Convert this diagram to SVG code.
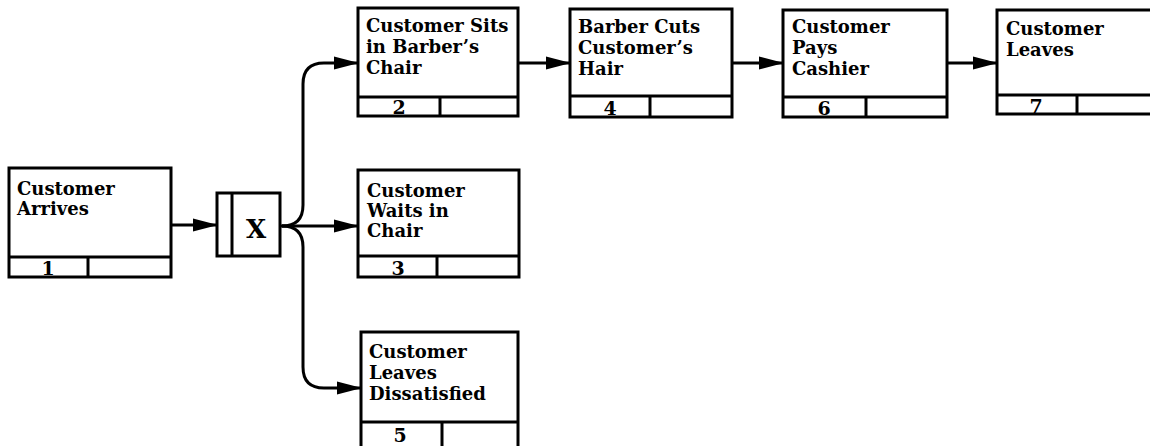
<svg xmlns="http://www.w3.org/2000/svg" width="1150" height="446" viewBox="0 0 1150 446">
<style>
.box{fill:#fff;stroke:#000;stroke-width:3}
.ln{fill:none;stroke:#000;stroke-width:3}
.t{font-family:"DejaVu Serif","Liberation Serif",serif;font-weight:bold;font-size:18px;fill:#000}
.n{font-family:"DejaVu Serif","Liberation Serif",serif;font-weight:bold;font-size:19px;fill:#000;text-anchor:middle}
.c{fill:none;stroke:#000;stroke-width:3;marker-end:url(#ah)}
</style>
<defs>
<marker id="ah" markerUnits="userSpaceOnUse" markerWidth="26" markerHeight="14" refX="24" refY="7" orient="auto">
<path d="M0,0.5 L25,7 L0,13.5 Z" fill="#000"/>
</marker>
</defs>
<rect width="1150" height="446" fill="#fff"/>
<g id="connectors">
<path class="c" d="M171,225 L217,225"/>
<path class="c" d="M280,226 L358,226"/>
<path class="c" d="M282,226 Q303,226 303,205 L303,84 Q303,63 324,63 L358,63"/>
<path class="c" d="M282,226 Q303,226 303,247 L303,367 Q303,388 324,388 L361,388"/>
<path class="c" d="M518,63 L570,63"/>
<path class="c" d="M732,63 L783,63"/>
<path class="c" d="M947,63 L997,63"/>
</g>
<g id="node1">
<rect class="box" x="9" y="168" width="162" height="109"/>
<line class="ln" x1="9" y1="257" x2="171" y2="257"/>
<line class="ln" x1="88" y1="257" x2="88" y2="277"/>
<text class="t" x="17" y="195">Customer</text>
<text class="t" x="17" y="215">Arrives</text>
<text class="n" x="48" y="275">1</text>
</g>
<g id="junction">
<rect class="box" x="217" y="193" width="63" height="63"/>
<line class="ln" x1="232" y1="193" x2="232" y2="256"/>
<text x="256" y="238" font-family="DejaVu Serif, Liberation Serif, serif" font-weight="bold" font-size="26" text-anchor="middle">X</text>
</g>
<g id="node2">
<rect class="box" x="358" y="8" width="160" height="108"/>
<line class="ln" x1="358" y1="97" x2="518" y2="97"/>
<line class="ln" x1="440" y1="97" x2="440" y2="116"/>
<text class="t" x="366" y="32">Customer Sits</text>
<text class="t" x="366" y="53">in Barber’s</text>
<text class="t" x="366" y="74">Chair</text>
<text class="n" x="399" y="114">2</text>
</g>
<g id="node3">
<rect class="box" x="358" y="170" width="161" height="107"/>
<line class="ln" x1="358" y1="256" x2="519" y2="256"/>
<line class="ln" x1="437" y1="256" x2="437" y2="277"/>
<text class="t" x="367" y="197">Customer</text>
<text class="t" x="367" y="217">Waits in</text>
<text class="t" x="367" y="237">Chair</text>
<text class="n" x="398" y="275">3</text>
</g>
<g id="node4">
<rect class="box" x="570" y="9" width="162" height="108"/>
<line class="ln" x1="570" y1="96" x2="732" y2="96"/>
<line class="ln" x1="650" y1="96" x2="650" y2="117"/>
<text class="t" x="578" y="33">Barber Cuts</text>
<text class="t" x="578" y="54">Customer’s</text>
<text class="t" x="578" y="75">Hair</text>
<text class="n" x="610" y="115">4</text>
</g>
<g id="node5">
<rect class="box" x="361" y="332" width="157" height="116"/>
<line class="ln" x1="361" y1="422" x2="518" y2="422"/>
<line class="ln" x1="442" y1="422" x2="442" y2="448"/>
<text class="t" x="369" y="358">Customer</text>
<text class="t" x="369" y="379">Leaves</text>
<text class="t" x="369" y="400">Dissatisfied</text>
<text class="n" x="400" y="442">5</text>
</g>
<g id="node6">
<rect class="box" x="783" y="10" width="164" height="107"/>
<line class="ln" x1="783" y1="97" x2="947" y2="97"/>
<line class="ln" x1="866" y1="97" x2="866" y2="117"/>
<text class="t" x="792" y="33">Customer</text>
<text class="t" x="792" y="54">Pays</text>
<text class="t" x="792" y="75">Cashier</text>
<text class="n" x="824" y="115">6</text>
</g>
<g id="node7">
<rect class="box" x="997" y="10" width="170" height="104"/>
<line class="ln" x1="997" y1="95" x2="1167" y2="95"/>
<line class="ln" x1="1077" y1="95" x2="1077" y2="114"/>
<text class="t" x="1006" y="35">Customer</text>
<text class="t" x="1006" y="56">Leaves</text>
<text class="n" x="1036" y="113">7</text>
</g>
</svg>
